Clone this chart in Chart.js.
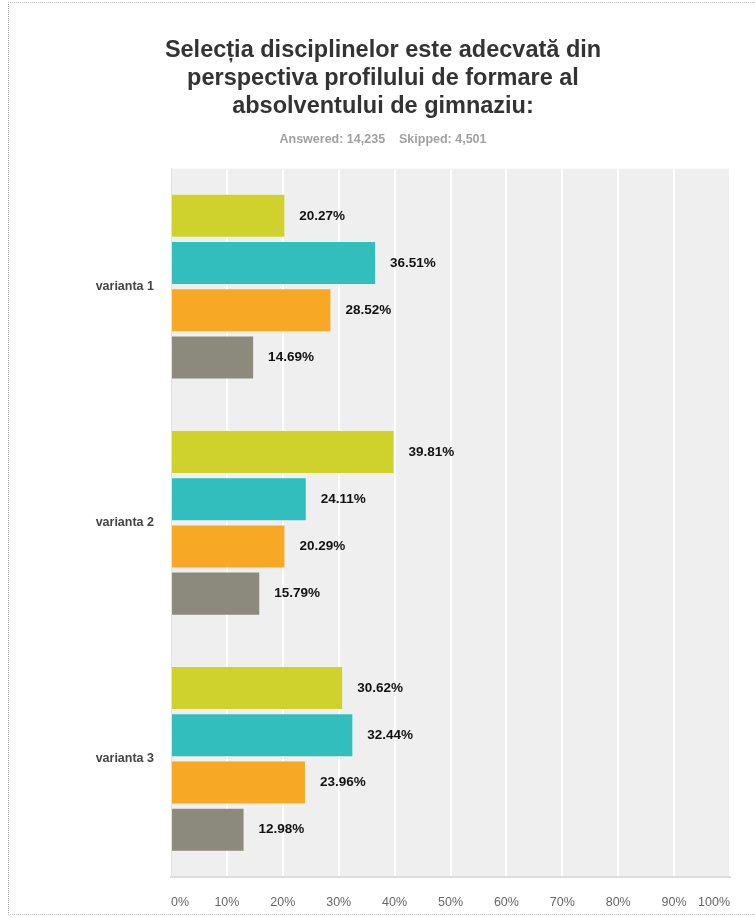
<!DOCTYPE html>
<html>
<head>
<meta charset="utf-8">
<script src="https://cdn.jsdelivr.net/npm/chart.js@4"></script>
<style>
  body { margin: 0; background: #fff; overflow: hidden; }
  .frame { position: absolute; left: 8px; top: 2px; width: 800px; height: 911px;
           border-left: 1px dotted #999; border-top: 1px dotted #bbb; border-bottom: 1px dotted #bbb; }
  .wrap { position: absolute; left: 0; top: 0; width: 780px; height: 935px; }
</style>
</head>
<body>
<div class="frame"></div>
<div class="wrap"><canvas id="chart"></canvas></div>
<script>
// data
var categories = ["varianta 1", "varianta 2", "varianta 3"];
var seriesNames = ["răspuns 1", "răspuns 2", "răspuns 3", "răspuns 4"];
var serie1 = [20.27, 39.81, 30.62];
var serie2 = [36.51, 24.11, 32.44];
var serie3 = [28.52, 20.29, 23.96];
var serie4 = [14.69, 15.79, 12.98];
var colors = ["#cfd22c", "#33bebe", "#f7a824", "#8b8a7d"];
var xTicks = [0, 10, 20, 30, 40, 50, 60, 70, 80, 90, 100];

var datasets = [serie1, serie2, serie3, serie4].map(function(values, i) {
  return {
    label: seriesNames[i],
    data: values,
    backgroundColor: colors[i],
    categoryPercentage: 0.8,
    barPercentage: 0.89
  }
});

// grey plot background
var plotBackground = {
  id: "plotBackground",
  beforeDraw: function(chart) {
    var a = chart.chartArea, ctx = chart.ctx;
    ctx.save();
    ctx.fillStyle = "#efefef";
    ctx.fillRect(a.left, a.top, a.right - a.left, a.bottom - a.top);
    ctx.restore();
  }
};

// value labels right of every bar
var valueLabels = {
  id: "valueLabels",
  afterDatasetsDraw: function(chart) {
    var ctx = chart.ctx;
    ctx.save();
    ctx.font = "bold 13.5px 'Liberation Sans', Arial, sans-serif";
    ctx.fillStyle = "#111";
    ctx.textBaseline = "middle";
    chart.data.datasets.forEach(function(ds, i) {
      chart.getDatasetMeta(i).data.forEach(function(bar, j) {
        ctx.fillText(ds.data[j].toFixed(2) + "%", bar.x + 15, bar.y);
      });
    });
    ctx.restore();
  }
};

new Chart(document.getElementById("chart"), {
  type: "bar",
  data: { labels: categories, datasets: datasets },
  plugins: [plotBackground, valueLabels],
  options: {
    indexAxis: "y",
    responsive: true,
    maintainAspectRatio: false,
    animation: false,
    layout: { padding: { left: 36, right: 50, top: 36, bottom: 7 } },
    plugins: {
      legend: { display: false },
      tooltip: { enabled: false },
      title: {
        display: true,
        text: ["Selecția disciplinelor este adecvată din", "perspectiva profilului de formare al", "absolventului de gimnaziu:"],
        font: { family: "'Liberation Sans', Arial, sans-serif", size: 23.5, weight: "bold" },
        color: "#333",
        lineHeight: 1.13,
        padding: { top: 0, bottom: 11 }
      },
      subtitle: {
        display: true,
        text: "Answered: 14,235    Skipped: 4,501",
        font: { family: "'Liberation Sans', Arial, sans-serif", size: 12.5, weight: "bold" },
        color: "#a0a0a0",
        padding: { top: 0, bottom: 22 }
      }
    },
    scales: {
      x: {
        min: 0,
        max: 100,
        afterBuildTicks: function(axis) {
          axis.ticks = xTicks.map(function(v) { return { value: v } });
        },
        grid: { color: "#ffffff", lineWidth: 2, drawTicks: false },
        border: { display: true, color: "#dcdcdc", width: 2 },
        ticks: {
          align: "inner",
          padding: 18,
          color: "#666",
          font: { family: "'Liberation Sans', Arial, sans-serif", size: 12.5 },
          callback: function(v) { return v + "%"; }
        }
      },
      y: {
        grid: { display: false },
        border: { display: true, color: "#e2e2e2", width: 1 },
        afterFit: function(axis) { axis.width = 135; },
        ticks: {
          padding: 9,
          color: "#444",
          font: { family: "'Liberation Sans', Arial, sans-serif", size: 12.5, weight: "bold" }
        }
      }
    }
  }
});
</script>
</body>
</html>
